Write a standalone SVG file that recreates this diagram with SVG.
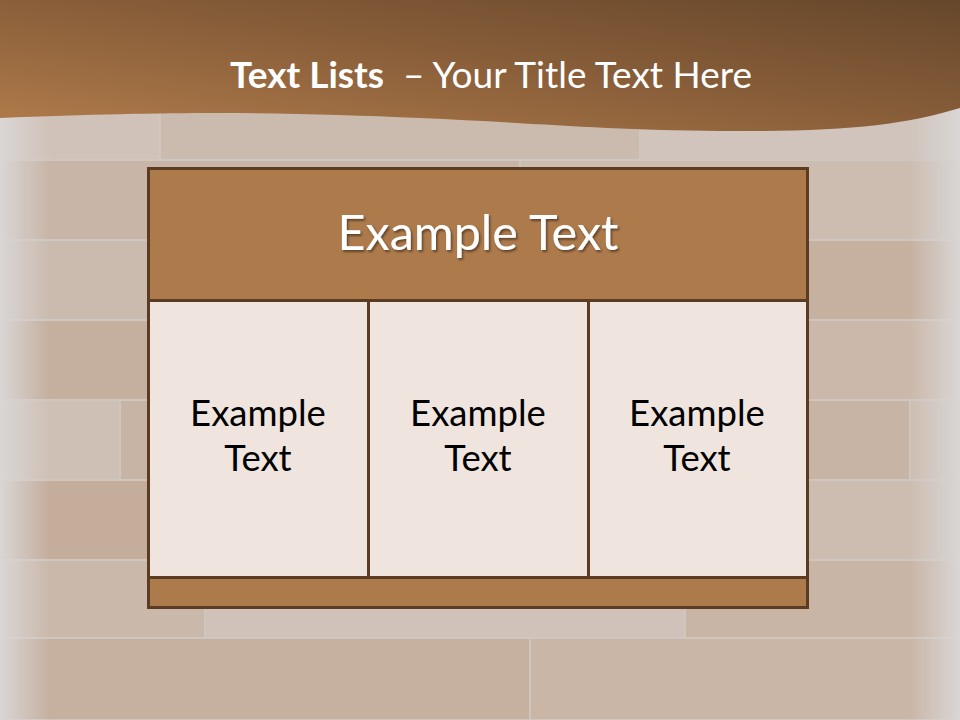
<svg xmlns="http://www.w3.org/2000/svg" width="960" height="720" viewBox="0 0 960 720">
<defs>
<linearGradient id="band" x1="0" y1="1" x2="1" y2="0">
<stop offset="0" stop-color="#b17c4b"/>
<stop offset="0.5" stop-color="#8a5f3a"/>
<stop offset="1" stop-color="#66472b"/>
</linearGradient>
<linearGradient id="edgeL" x1="0" y1="0" x2="1" y2="0">
<stop offset="0" stop-color="#d9d6d5" stop-opacity="1"/>
<stop offset="1" stop-color="#d9d6d5" stop-opacity="0"/>
</linearGradient>
<linearGradient id="edgeR" x1="1" y1="0" x2="0" y2="0">
<stop offset="0" stop-color="#d9d6d5" stop-opacity="1"/>
<stop offset="1" stop-color="#d9d6d5" stop-opacity="0"/>
</linearGradient>
<filter id="shadow" x="-10%" y="-20%" width="120%" height="140%">
<feDropShadow dx="1.5" dy="2" stdDeviation="1.2" flood-color="#000" flood-opacity="0.45"/>
</filter>
</defs>
<style>
.plank{stroke:#cfc6c0;stroke-width:2}
.cell{fill:#efe5de;stroke:#5b3b22;stroke-width:3}
.bar{fill:#ad7a4c;stroke:#5b3b22;stroke-width:3}
.ct{font-family:Lato,"Open Sans","Liberation Sans",sans-serif;font-size:36.5px;fill:#000;text-anchor:middle}
</style>
<g id="background">
<rect x="0" y="0" width="960" height="720" fill="#d2c9c4"/>
<rect class="plank" x="0" y="110" width="160" height="50" fill="#d0c2b8"/>
<rect class="plank" x="160" y="110" width="480" height="50" fill="#cbbbaf"/>
<rect class="plank" x="640" y="110" width="320" height="50" fill="#d0c4bc"/>
<rect class="plank" x="0" y="160" width="520" height="80" fill="#c8b5a7"/>
<rect class="plank" x="520" y="160" width="440" height="80" fill="#cdbdb1"/>
<rect class="plank" x="0" y="240" width="300" height="80" fill="#cbbaae"/>
<rect class="plank" x="300" y="240" width="660" height="80" fill="#c6b1a1"/>
<rect class="plank" x="0" y="320" width="440" height="80" fill="#c5af9e"/>
<rect class="plank" x="440" y="320" width="520" height="80" fill="#cbb8aa"/>
<rect class="plank" x="0" y="400" width="120" height="80" fill="#cfc0b5"/>
<rect class="plank" x="120" y="400" width="790" height="80" fill="#c8b4a4"/>
<rect class="plank" x="910" y="400" width="50" height="80" fill="#cdbdb1"/>
<rect class="plank" x="0" y="480" width="680" height="80" fill="#c4ad9b"/>
<rect class="plank" x="680" y="480" width="280" height="80" fill="#cdbdb1"/>
<rect class="plank" x="0" y="560" width="205" height="78" fill="#cab8aa"/>
<rect class="plank" x="205" y="560" width="480" height="78" fill="#d0c2b9"/>
<rect class="plank" x="685" y="560" width="275" height="78" fill="#c9b5a6"/>
<rect class="plank" x="0" y="638" width="530" height="82" fill="#c6b0a0"/>
<rect class="plank" x="530" y="638" width="430" height="82" fill="#cab6a7"/>
<rect x="0" y="0" width="50" height="720" fill="url(#edgeL)"/>
<rect x="910" y="0" width="50" height="720" fill="url(#edgeR)"/>
</g>
<g id="title-band">
<path d="M0,0 H960 V108 C900,126 840,132 720,131 C600,130 520,122 420,118 C300,113 200,110 0,118 Z" fill="url(#band)"/>
<text x="491" y="88" text-anchor="middle" font-family="Lato,'Open Sans','Liberation Sans',sans-serif" font-size="37" fill="#ffffff"><tspan font-weight="bold">Text Lists</tspan><tspan xml:space="preserve">  – Your Title Text Here</tspan></text>
</g>
<g id="header">
<rect class="bar" x="148.5" y="168.5" width="659" height="132"/>
<text x="478" y="250" text-anchor="middle" font-family="Lato,'Open Sans','Liberation Sans',sans-serif" font-size="48.5" fill="#ffffff" filter="url(#shadow)">Example Text</text>
</g>
<g id="cell-1">
<rect class="cell" x="148.5" y="300.5" width="220" height="277"/>
<text class="ct" x="258" y="426">Example</text>
<text class="ct" x="258" y="471">Text</text>
</g>
<g id="cell-2">
<rect class="cell" x="368.5" y="300.5" width="220" height="277"/>
<text class="ct" x="478" y="426">Example</text>
<text class="ct" x="478" y="471">Text</text>
</g>
<g id="cell-3">
<rect class="cell" x="588.5" y="300.5" width="219" height="277"/>
<text class="ct" x="697" y="426">Example</text>
<text class="ct" x="697" y="471">Text</text>
</g>
<g id="footer">
<rect class="bar" x="148.5" y="577.5" width="659" height="30"/>
</g>
<g id="connectors"/>
</svg>
